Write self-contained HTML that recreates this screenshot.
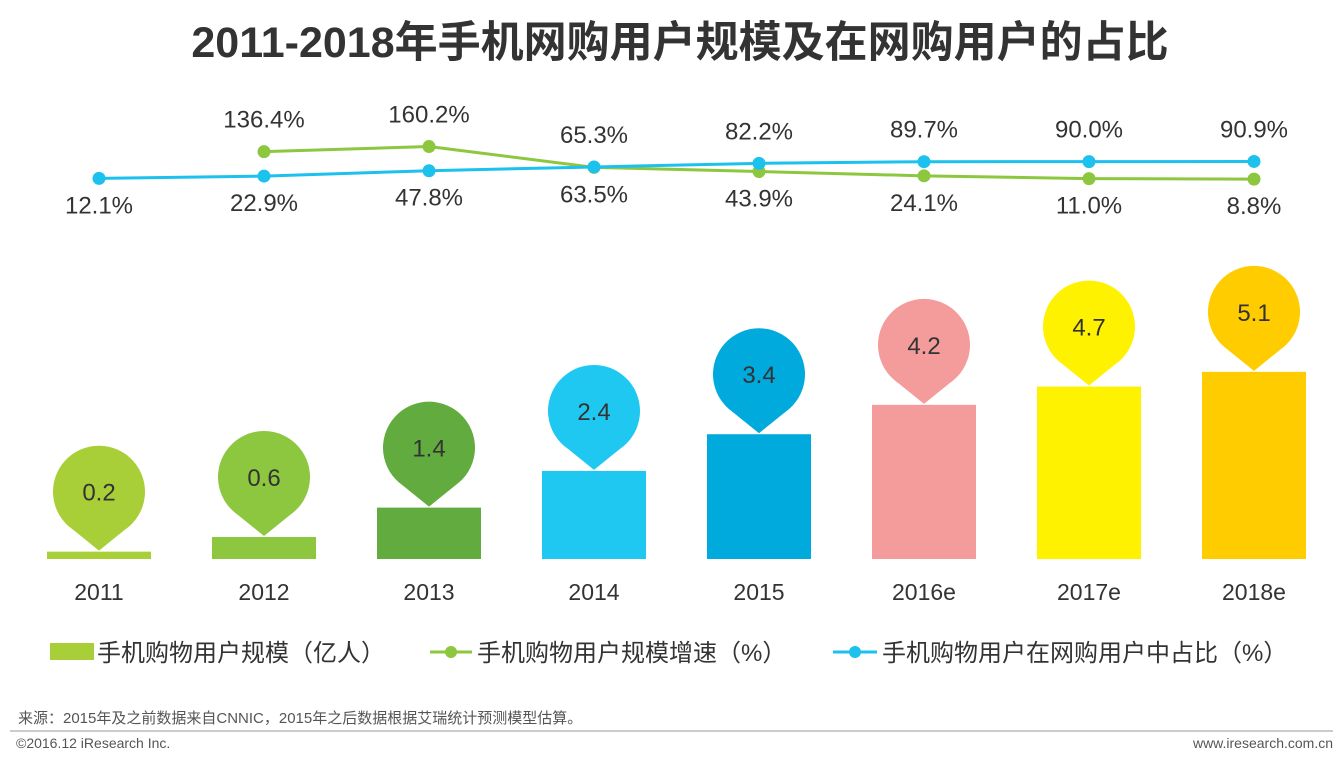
<!DOCTYPE html>
<html><head><meta charset="utf-8">
<style>
body{margin:0;width:1339px;height:758px;background:#fff;overflow:hidden;font-family:"Liberation Sans","Noto Sans CJK SC",sans-serif;}
svg text{font-family:"Liberation Sans","Noto Sans CJK SC",sans-serif;}
</style></head><body>
<svg id="chart" width="1339" height="758">
<text x="680" y="57" text-anchor="middle" font-size="43" font-weight="bold" fill="#333">2011-2018年手机网购用户规模及在网购用户的占比</text>
<g id="bars"></g><g id="lines"></g><g id="labels"></g>
<g>
<g><rect x="50" y="643" width="44" height="17" fill="#a8cf38"/><text x="97" y="661" font-size="24" fill="#333">手机购物用户规模（亿人）</text></g>
<g><line x1="430" y1="652" x2="472" y2="652" stroke="#8dc63f" stroke-width="3"/><circle cx="451" cy="652" r="6" fill="#8dc63f"/><text x="477" y="661" font-size="24" fill="#333">手机购物用户规模增速（%）</text></g>
<g><line x1="833" y1="652" x2="877" y2="652" stroke="#1cc1ee" stroke-width="3"/><circle cx="855" cy="652" r="6" fill="#1cc1ee"/><text x="882" y="661" font-size="24" fill="#333">手机购物用户在网购用户中占比（%）</text></g>
</g>
<text x="18" y="723" font-size="15" fill="#555">来源：2015年及之前数据来自CNNIC，2015年之后数据根据艾瑞统计预测模型估算。</text>
<line x1="10" y1="731" x2="1333" y2="731" stroke="#999" stroke-width="1"/>
<text x="16" y="748" font-size="14" fill="#555">©2016.12 iResearch Inc.</text>
<text x="1333" y="748" font-size="14" fill="#555" text-anchor="end">www.iresearch.com.cn</text>
</svg>
<script>
const categories=["2011","2012","2013","2014","2015","2016e","2017e","2018e"];
const users=[0.2,0.6,1.4,2.4,3.4,4.2,4.7,5.1];
const growth=[null,136.4,160.2,63.5,43.9,24.1,11.0,8.8];
const share=[12.1,22.9,47.8,65.3,82.2,89.7,90.0,90.9];
const colors=["#a8cf38","#8dc63f","#62ab3e","#1fc8f0","#00aadd","#f49c9c","#fff200","#ffcc00"];
const NS="http://www.w3.org/2000/svg";
const xS=i=>99+165*i;
const yB=v=>559-36.7*v;
const yL=v=>181-0.215*v;
function mk(t,a,p){const e=document.createElementNS(NS,t);for(const k in a)e.setAttribute(k,a[k]);p.appendChild(e);return e;}
const bars=document.getElementById('bars'),lines=document.getElementById('lines'),labels=document.getElementById('labels');
categories.forEach((c,i)=>{
  const x=xS(i),top=yB(users[i]);
  const r=mk('rect',{x:x-52,y:top,width:104,height:559-top,fill:colors[i]},bars);
  
  
  const cy=top-60,R=46;
  const pin=mk('path',{d:`M${x} ${top-1} L${x-26} ${cy+38} A${R} ${R} 0 1 1 ${x+26} ${cy+38} Z`,fill:colors[i]},bars);
  
  
  const t=mk('text',{x:x,y:cy+9,'text-anchor':'middle','font-size':24,fill:'#333'},bars);t.textContent=users[i].toFixed(1);
  
  
  const yl=mk('text',{x:x,y:600,'text-anchor':'middle','font-size':23,fill:'#333'},labels);yl.textContent=c;
  
  
});
function series(vals,color,name){
  const pts=[];vals.forEach((v,i)=>{if(v!==null)pts.push([xS(i),yL(v)]);});
  const pl=mk('polyline',{points:pts.map(p=>p.join(',')).join(' '),fill:'none',stroke:color,'stroke-width':3},lines);
  
  
  pts.forEach(p=>{const c=mk('circle',{cx:p[0],cy:p[1],r:6.5,fill:color},lines);
    
    });
}
series(growth,'#8dc63f','growth');
series(share,'#1cc1ee','share');
categories.forEach((c,i)=>{
  const vals=[growth[i],share[i]].filter(v=>v!==null);
  const hi=Math.max(...vals),lo=Math.min(...vals);
  if(vals.length>1){
    const a=mk('text',{x:xS(i),y:yL(hi)-24,'text-anchor':'middle','font-size':24,fill:'#333'},labels);a.textContent=hi.toFixed(1)+'%';
    
    
  }
  const b=mk('text',{x:xS(i),y:yL(lo)+35,'text-anchor':'middle','font-size':24,fill:'#333'},labels);b.textContent=lo.toFixed(1)+'%';
  
  
});
</script>
</body></html>
